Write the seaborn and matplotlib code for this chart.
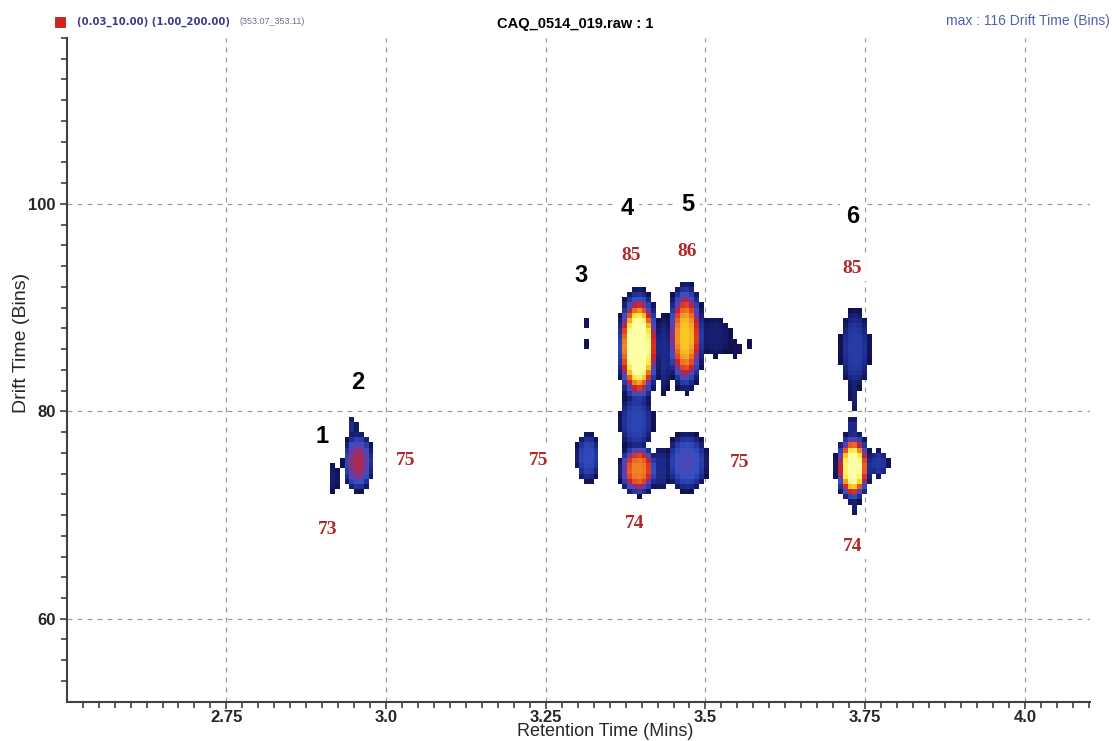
import numpy as np
import pandas as pd
import matplotlib
matplotlib.use('Agg')
import matplotlib.pyplot as plt
from matplotlib.colors import LinearSegmentedColormap
from matplotlib.patches import Rectangle
import seaborn as sns

# axis ranges
RT_MIN, RT_MAX = 2.5, 4.102
DT_MIN, DT_MAX = 52.0, 116.0
RT_STEP, DT_STEP = 0.0075, 0.5
THRESH = 0.04
EDGE = 4  # flat-topped blobs

# blobs: centre (rt, dt), half extent at the edge (rt, dt), peak level (1 ~ yellow)
PEAK_RT = [2.919, 2.956, 2.948, 3.314, 3.314, 3.316, 3.395, 3.392, 3.395, 3.435,
           3.469, 3.515, 3.548, 3.568, 3.471, 3.430, 3.734, 3.733, 3.731, 3.771,
           3.730, 3.733]
PEAK_DT = [73.55, 75.1, 78.5, 88.6, 86.6, 75.55, 86.2, 79.0, 74.4, 85.5,
           87.2, 87.2, 86.0, 86.5, 75.1, 74.5, 86.0, 82.0, 74.6, 75.0,
           78.5, 71.0]
PEAK_WRT = [0.006, 0.025, 0.007, 0.006, 0.006, 0.020, 0.035, 0.028, 0.032, 0.012,
            0.030, 0.025, 0.010, 0.004, 0.034, 0.015, 0.024, 0.008, 0.029, 0.016,
            0.010, 0.004]
PEAK_WDT = [1.5, 3.0, 1.0, 0.5, 0.6, 2.45, 5.9, 3.0, 2.7, 4.0,
            5.5, 2.0, 0.8, 0.6, 3.0, 2.2, 4.0, 2.2, 3.6, 1.4,
            1.0, 1.0]
PEAK_LEVEL = [0.10, 0.50, 0.15, 0.06, 0.06, 0.28, 1.20, 0.25, 0.75, 0.15,
              0.85, 0.10, 0.06, 0.06, 0.35, 0.15, 0.22, 0.10, 1.10, 0.20,
              0.15, 0.10]

# peak numbers (black) and drift time labels (red)
NUM_TEXT = ['1', '2', '3', '4', '5', '6']
NUM_RT = [2.900, 2.955, 3.306, 3.377, 3.472, 3.730]
NUM_DT = [77.6, 82.75, 93.1, 99.6, 99.9, 98.8]
DTL_TEXT = ['75', '73', '75', '85', '86', '74', '75', '85', '74']
DTL_RT = [3.030, 2.909, 3.239, 3.383, 3.472, 3.389, 3.554, 3.730, 3.731]
DTL_DT = [75.3, 68.6, 75.3, 95.0, 95.4, 69.2, 75.1, 93.8, 67.0]

X_TICKS = [2.75, 3.0, 3.25, 3.5, 3.75, 4.0]
X_TICK_LABELS = ['2.75', '3.0', '3.25', '3.5', '3.75', '4.0']
Y_TICKS = [60, 80, 100]

sns.set_style('ticks')
plt.rcParams['font.family'] = ['Liberation Sans', 'DejaVu Sans']

nx = int(np.ceil((RT_MAX - RT_MIN) / RT_STEP))
ny = int(round((DT_MAX - DT_MIN) / DT_STEP))
rt_c = RT_MIN + (np.arange(nx) + 0.5) * RT_STEP
dt_c = DT_MAX - (np.arange(ny) + 0.5) * DT_STEP
RT, DT = np.meshgrid(rt_c, dt_c)

Z = np.zeros_like(RT)
for rt, dt, wr, wd, lev in zip(PEAK_RT, PEAK_DT, PEAK_WRT, PEAK_WDT, PEAK_LEVEL):
    d = np.sqrt(((RT - rt) / wr) ** 2 + ((DT - dt) / wd) ** 2)
    z = lev * (THRESH / lev) ** np.minimum(d ** EDGE, 50)
    Z = np.maximum(Z, z)

grid = pd.DataFrame(Z, index=np.round(dt_c, 2), columns=np.round(rt_c, 4))


def xpos(rt):
    return (rt - RT_MIN) / RT_STEP


def ypos(dt):
    return (DT_MAX - dt) / DT_STEP


cmap = LinearSegmentedColormap.from_list('driftscope', [
    (0.00, '#10104e'), (0.12, '#1f2f95'), (0.26, '#3450c2'),
    (0.38, '#6a3aa8'), (0.50, '#d22024'), (0.68, '#f07222'),
    (0.84, '#ffe226'), (1.00, '#ffffa8')])

fig = plt.figure(figsize=(11.12, 7.41), dpi=100)
ax = fig.add_axes([66.7 / 1112, 1 - 701.7 / 741, (1090 - 66.7) / 1112, (701.7 - 38) / 741])

sns.heatmap(grid, mask=grid < THRESH, cmap=cmap, vmin=THRESH, vmax=1.05,
            cbar=False, ax=ax, xticklabels=False, yticklabels=False)

ax.set_xlim(0, xpos(RT_MAX))
ax.set_ylim(ypos(DT_MIN), ypos(DT_MAX))
ax.set_axisbelow(True)

ax.set_xticks([xpos(v) for v in X_TICKS])
ax.set_xticklabels(X_TICK_LABELS, rotation=0, fontsize=12, fontweight='bold')
ax.set_xticks([xpos(v) for v in np.arange(2.525, 4.101, 0.025)], minor=True)
ax.set_yticks([ypos(v) for v in Y_TICKS])
ax.set_yticklabels([str(v) for v in Y_TICKS], rotation=0, fontsize=12, fontweight='bold')
ax.set_yticks([ypos(v) for v in np.arange(54, 116.1, 2)], minor=True)
ax.tick_params(which='both', direction='out', color='#404040', width=1.2)
ax.tick_params(which='major', length=5)
ax.tick_params(which='minor', length=4)
ax.tick_params(axis='x', pad=1)
ax.tick_params(axis='y', pad=3)

ax.grid(which='major', linestyle=(0, (4, 4)), color='#a89a8c', linewidth=0.9)

for side in ['left', 'bottom']:
    ax.spines[side].set_visible(True)
    ax.spines[side].set_color('#404040')
    ax.spines[side].set_linewidth(1.5)
for side in ['top', 'right']:
    ax.spines[side].set_visible(False)

ax.set_ylabel('Drift Time (Bins)', fontsize=14)
ax.yaxis.set_label_coords(-0.036, 0.54)
fig.text(605 / 1112, 0.5 / 741, 'Retention Time (Mins)', fontsize=13,
         ha='center', va='bottom')

for t, rt, dt in zip(NUM_TEXT, NUM_RT, NUM_DT):
    ax.text(xpos(rt), ypos(dt), t, ha='center', va='center', fontsize=17,
            fontweight='bold', color='black',
            bbox=dict(facecolor='white', edgecolor='none', pad=4))
for t, rt, dt in zip(DTL_TEXT, DTL_RT, DTL_DT):
    ax.text(xpos(rt), ypos(dt), t, ha='center', va='center', fontsize=14,
            fontweight='bold', color='#b2282a', family='Liberation Serif',
            bbox=dict(facecolor='white', edgecolor='none', pad=3))

# header line
fig.patches.append(Rectangle((55 / 1112, 1 - 27 / 741), 10 / 1112, 10 / 741,
                             transform=fig.transFigure, facecolor='#d8201e',
                             edgecolor='#901010', linewidth=0.5))
fig.text(77 / 1112, 1 - 22 / 741, '(0.03_10.00) (1.00_200.00)', fontsize=7.3,
         fontweight='bold', color='#3a3a8c', va='center', ha='left',
         family='DejaVu Sans')
fig.text(239 / 1112, 1 - 22 / 741, '(353.07_353.11)', fontsize=6.5,
         color='#6a6a9c', va='center', ha='left')
fig.text(575 / 1112, 1 - 24 / 741, 'CAQ_0514_019.raw : 1', fontsize=10.5,
         fontweight='bold', color='black', va='center', ha='center')
fig.text(1110 / 1112, 1 - 21 / 741, 'max : 116 Drift Time (Bins)', fontsize=10,
         color='#5560a8', va='center', ha='right')

fig.savefig('out.png', dpi=100)
